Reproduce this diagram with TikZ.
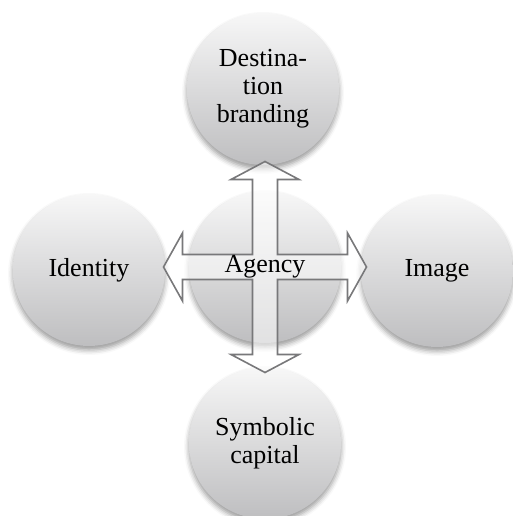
\documentclass[tikz,border=0pt]{standalone}
\usepackage{fontspec}
\setmainfont{Liberation Serif}
\usetikzlibrary{shadows.blur}
\definecolor{balltop}{RGB}{247,247,247}
\definecolor{ballbottom}{RGB}{190,190,192}
\definecolor{arrowline}{RGB}{120,120,122}
\begin{document}
\begin{tikzpicture}[x=1pt,y=-1pt,
  ball/.style={circle, minimum size=152pt, inner sep=0pt,
    top color=balltop, bottom color=ballbottom,
    blur shadow={shadow xshift=0pt, shadow yshift=-4pt,
      shadow blur radius=5pt, shadow opacity=40},
    font=\fontsize{26}{28}\selectfont, align=center, text=black},
  label text/.style={font=\fontsize{26}{28}\selectfont, text=black},
  quadarrow/.style={draw=arrowline, line width=1.6pt, line join=miter,
    fill=white, fill opacity=0.55},
]
\useasboundingbox (0,0) rectangle (512,516);

% surrounding concepts
\node[ball] (brand)    at (263,89)  {Destina-\\tion\\branding};
\node[ball] (identity) at (89,270)  {Identity};
\node[ball] (image)    at (437,271) {Image};
\node[ball] (capital)  at (265,443) {Symbolic\\capital};
% central concept
\node[ball] (agency)   at (265,267) {};

% four-way arrow around the centre
\def\sw{12.5}  % half shaft width
\def\hw{34}    % half head width
\def\tv{105.5} % vertical tip distance
\def\bv{87.5}  % vertical head base
\def\th{101.5} % horizontal tip distance
\def\bh{82.5}  % horizontal head base
\draw[quadarrow, shift={(agency.center)}]
  (\sw,-\bv) -- (\hw,-\bv) -- (0,-\tv) -- (-\hw,-\bv) -- (-\sw,-\bv)
  -- (-\sw,-\sw) -- (-\bh,-\sw) -- (-\bh,-\hw) -- (-\th,0) -- (-\bh,\hw)
  -- (-\bh,\sw) -- (-\sw,\sw) -- (-\sw,\bv) -- (-\hw,\bv) -- (0,\tv)
  -- (\hw,\bv) -- (\sw,\bv) -- (\sw,\sw) -- (\bh,\sw) -- (\bh,\hw)
  -- (\th,0) -- (\bh,-\hw) -- (\bh,-\sw) -- (\sw,-\sw) -- cycle;

\node[label text] (agencytext) at (agency.center) {Agency};
\end{tikzpicture}
\end{document}
